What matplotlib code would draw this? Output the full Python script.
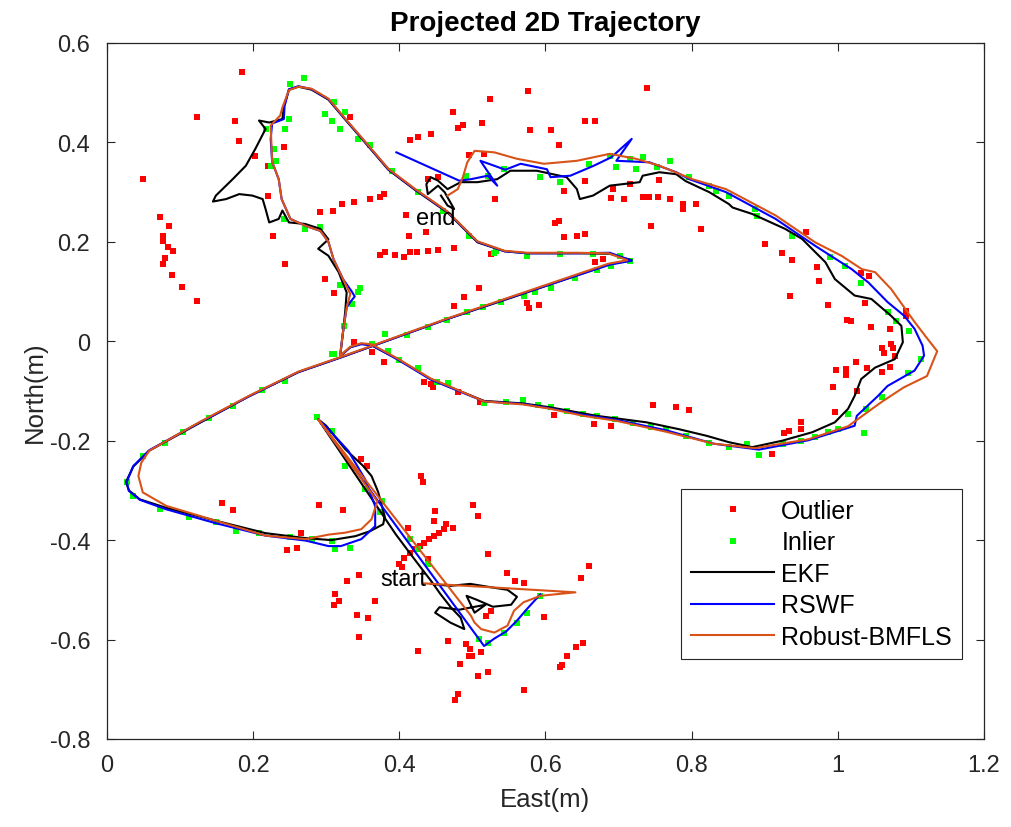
import matplotlib
matplotlib.use("Agg")
import matplotlib.pyplot as plt
import numpy as np

plt.rcParams['font.family'] = ['Liberation Sans', 'DejaVu Sans']

# measurements flagged as outliers (East, North)
outlier = np.array([
    (0.185, 0.541), (0.123, 0.452), (0.175, 0.444), (0.180, 0.403), (0.049, 0.326),
    (0.203, 0.373), (0.242, 0.390), (0.221, 0.353), (0.221, 0.292), (0.073, 0.249),
    (0.085, 0.232), (0.077, 0.212), (0.077, 0.202), (0.083, 0.189), (0.091, 0.182),
    (0.079, 0.167), (0.077, 0.155), (0.089, 0.133), (0.103, 0.110), (0.123, 0.081),
    (0.227, 0.212), (0.243, 0.155), (0.299, 0.125), (0.311, 0.098), (0.333, 0.452),
    (0.292, 0.259), (0.309, 0.263), (0.321, 0.276), (0.338, 0.281), (0.360, 0.286),
    (0.373, 0.290), (0.379, 0.296), (0.414, 0.405), (0.426, 0.410), (0.443, 0.416),
    (0.473, 0.462), (0.480, 0.428), (0.487, 0.434), (0.513, 0.439), (0.524, 0.487),
    (0.495, 0.375), (0.516, 0.377), (0.439, 0.326), (0.453, 0.330), (0.409, 0.254),
    (0.437, 0.220), (0.413, 0.212), (0.373, 0.173), (0.380, 0.179), (0.394, 0.173),
    (0.406, 0.169), (0.414, 0.179), (0.424, 0.179), (0.439, 0.182), (0.453, 0.184),
    (0.475, 0.187), (0.526, 0.175), (0.509, 0.108), (0.488, 0.090), (0.475, 0.071),
    (0.531, 0.286), (0.338, -0.001), (0.362, -0.022),
    (0.739, 0.509), (0.576, 0.504), (0.579, 0.424), (0.607, 0.424), (0.654, 0.444),
    (0.668, 0.444), (0.619, 0.395),
    (0.618, 0.242), (0.613, 0.238), (0.625, 0.209), (0.643, 0.211), (0.654, 0.216),
    (0.654, 0.323), (0.625, 0.303), (0.693, 0.306), (0.690, 0.289), (0.708, 0.286),
    (0.733, 0.291), (0.742, 0.291), (0.754, 0.291), (0.770, 0.286), (0.788, 0.276),
    (0.788, 0.266), (0.806, 0.276), (0.715, 0.316), (0.756, 0.324), (0.745, 0.231),
    (0.813, 0.226), (0.901, 0.196), (0.668, 0.159), (0.679, 0.165),
    (0.956, 0.219), (0.924, 0.177), (0.937, 0.163), (0.971, 0.150), (0.974, 0.122),
    (0.934, 0.092), (0.987, 0.073), (1.032, 0.137), (1.043, 0.131), (1.037, 0.076),
    (1.093, 0.061), (1.094, 0.051), (1.013, 0.043), (1.018, 0.041), (1.045, 0.029),
    (1.072, 0.025), (1.060, -0.014), (1.063, -0.024), (1.073, -0.006), (1.075, -0.014),
    (1.025, -0.041), (1.040, -0.054), (0.998, -0.058), (1.011, -0.056), (1.011, -0.068),
    (1.060, -0.061), (1.072, -0.051), (1.078, -0.029), (1.026, -0.101), (0.994, -0.091),
    (0.996, -0.142), (0.950, -0.163), (0.950, -0.177), (0.926, -0.185), (0.933, -0.181),
    (0.910, -0.227), (0.796, -0.138), (0.747, -0.128), (0.779, -0.133), (0.690, -0.170),
    (0.575, 0.076), (0.577, 0.066), (0.591, 0.073), (0.434, -0.081), (0.444, -0.086),
    (0.446, -0.091), (0.481, -0.103), (0.510, -0.122), (0.611, -0.148), (0.666, -0.167),
    (0.430, -0.272), (0.379, -0.041), (0.158, -0.326), (0.173, -0.340), (0.290, -0.329),
    (0.323, -0.340), (0.347, -0.237), (0.356, -0.250), (0.432, -0.284), (0.449, -0.341),
    (0.448, -0.362), (0.412, -0.376), (0.265, -0.385), (0.246, -0.420), (0.260, -0.415),
    (0.501, -0.330), (0.507, -0.351), (0.474, -0.375), (0.464, -0.368), (0.400, -0.448),
    (0.407, -0.435), (0.414, -0.425), (0.421, -0.418), (0.428, -0.411), (0.434, -0.405),
    (0.441, -0.398), (0.448, -0.391), (0.455, -0.385), (0.461, -0.378), (0.439, -0.437),
    (0.404, -0.455), (0.521, -0.428), (0.345, -0.470), (0.329, -0.483), (0.312, -0.509),
    (0.318, -0.522), (0.311, -0.531), (0.367, -0.523), (0.342, -0.550), (0.357, -0.557),
    (0.345, -0.594), (0.548, -0.467), (0.558, -0.482), (0.571, -0.487), (0.660, -0.453),
    (0.649, -0.477), (0.598, -0.554), (0.518, -0.552), (0.525, -0.542), (0.467, -0.603),
    (0.425, -0.623), (0.491, -0.608), (0.497, -0.619), (0.496, -0.633), (0.500, -0.633),
    (0.512, -0.626), (0.483, -0.650), (0.508, -0.673), (0.521, -0.666), (0.480, -0.710),
    (0.476, -0.722), (0.571, -0.701), (0.651, -0.607), (0.642, -0.614), (0.630, -0.633),
    (0.622, -0.651), (0.620, -0.656),
])

# measurements accepted as inliers
inlier = np.array([
    (0.251, 0.517), (0.269, 0.529), (0.311, 0.481), (0.326, 0.462), (0.299, 0.457),
    (0.308, 0.444), (0.319, 0.427), (0.249, 0.447), (0.244, 0.427), (0.217, 0.427),
    (0.228, 0.387), (0.231, 0.363), (0.224, 0.353), (0.242, 0.246), (0.271, 0.226),
    (0.292, 0.229), (0.319, 0.113), (0.346, 0.108), (0.344, 0.100), (0.310, -0.026),
    (0.491, 0.333), (0.521, 0.333), (0.532, 0.182), (0.344, 0.407), (0.543, 0.346),
    (0.593, 0.330), (0.620, 0.320), (0.659, 0.357), (0.688, 0.373), (0.715, 0.367),
    (0.733, 0.370), (0.770, 0.363), (0.697, 0.350), (0.724, 0.346), (0.752, 0.350),
    (0.797, 0.330), (0.530, 0.177), (0.575, 0.172), (0.620, 0.175), (0.665, 0.175),
    (0.702, 0.172), (0.715, 0.162), (0.824, 0.313), (0.851, 0.293), (0.887, 0.266),
    (0.833, 0.303), (0.937, 0.212), (1.032, 0.118), (1.069, 0.058), (1.098, 0.021),
    (1.114, -0.036), (1.096, -0.063), (1.060, -0.113), (1.039, -0.136), (1.014, -0.146),
    (1.036, -0.185), (0.987, -0.183), (0.969, -0.193), (0.892, -0.229), (0.876, -0.207),
    (0.851, -0.212), (0.824, -0.205), (0.792, -0.190), (0.670, -0.150), (0.695, -0.157),
    (0.425, -0.053), (0.466, -0.083), (0.516, -0.124), (0.546, -0.123), (0.569, -0.118),
    (0.607, -0.133), (0.652, -0.147), (0.765, -0.177), (0.439, 0.028), (0.493, 0.058),
    (0.539, 0.078), (0.570, 0.092), (0.607, 0.108), (0.308, -0.026), (0.362, -0.006),
    (0.244, -0.079), (0.172, -0.130), (0.104, -0.183), (0.049, -0.230), (0.027, -0.284),
    (0.036, -0.311), (0.072, -0.338), (0.149, -0.364), (0.176, -0.381), (0.208, -0.385),
    (0.308, -0.401), (0.333, -0.415), (0.312, -0.418), (0.287, -0.153), (0.308, -0.180),
    (0.326, -0.250), (0.353, -0.297), (0.376, -0.321), (0.373, -0.344), (0.414, -0.398),
    (0.425, -0.418), (0.439, -0.448), (0.509, -0.599), (0.521, -0.606), (0.543, -0.586),
    (0.561, -0.566), (0.575, -0.546), (0.593, -0.512),
    (0.385, -0.020), (0.400, -0.038), (0.452, -0.081), (0.590, -0.129), (0.630, -0.141),
    (0.720, -0.165), (0.745, -0.172), (0.925, -0.207), (0.950, -0.200), (1.000, -0.176),
    (0.380, 0.015), (0.410, 0.013), (0.465, 0.043), (0.515, 0.068), (0.585, 0.100),
    (0.640, 0.128), (0.670, 0.143), (0.690, 0.152), (0.212, -0.098), (0.140, -0.155),
    (0.080, -0.205), (0.112, -0.353), (0.250, -0.393), (0.280, -0.398), (0.890, 0.252),
    (0.990, 0.170), (1.010, 0.152), (1.080, 0.040), (0.360, 0.395), (0.390, 0.342),
    (0.425, 0.300), (0.460, 0.262), (0.495, 0.212), (0.335, 0.075), (0.325, 0.030),
])

# estimated trajectories
ekf = np.array([
    (0.443, -0.488), (0.470, -0.492), (0.497, -0.488), (0.522, -0.494), (0.548, -0.500),
    (0.561, -0.514), (0.553, -0.530), (0.528, -0.534), (0.506, -0.520), (0.492, -0.512),
    (0.503, -0.546), (0.518, -0.530), (0.482, -0.540), (0.455, -0.535), (0.449, -0.546),
    (0.470, -0.566), (0.489, -0.579), (0.484, -0.556), (0.471, -0.536), (0.456, -0.508),
    (0.445, -0.485), (0.420, -0.437), (0.395, -0.388), (0.289, -0.157), (0.300, -0.170),
    (0.326, -0.217), (0.350, -0.250), (0.362, -0.271), (0.371, -0.303), (0.380, -0.352),
    (0.378, -0.368), (0.360, -0.382), (0.340, -0.392), (0.307, -0.400), (0.272, -0.396),
    (0.217, -0.386), (0.149, -0.361), (0.081, -0.335), (0.045, -0.318), (0.030, -0.300),
    (0.026, -0.283), (0.036, -0.252), (0.058, -0.220), (0.126, -0.165), (0.194, -0.111),
    (0.262, -0.062), (0.321, -0.032), (0.466, 0.045), (0.552, 0.087), (0.688, 0.155),
    (0.718, 0.163), (0.688, 0.176), (0.643, 0.177), (0.575, 0.177), (0.544, 0.181),
    (0.507, 0.199), (0.466, 0.259), (0.421, 0.305), (0.385, 0.345), (0.353, 0.400),
    (0.326, 0.446), (0.303, 0.486), (0.280, 0.506), (0.262, 0.512), (0.249, 0.506),
    (0.242, 0.472), (0.240, 0.447), (0.222, 0.440), (0.208, 0.444), (0.217, 0.427),
    (0.203, 0.387), (0.190, 0.353), (0.172, 0.326), (0.149, 0.293), (0.145, 0.281),
    (0.163, 0.286), (0.181, 0.296), (0.199, 0.293), (0.213, 0.286), (0.217, 0.266),
    (0.222, 0.239), (0.235, 0.246), (0.240, 0.263), (0.249, 0.239), (0.271, 0.236),
    (0.292, 0.226), (0.303, 0.205), (0.289, 0.186), (0.303, 0.172), (0.317, 0.139),
    (0.328, 0.098), (0.326, 0.060), (0.323, 0.018), (0.319, -0.030), (0.333, -0.012),
    (0.348, -0.005), (0.362, -0.008), (0.398, -0.036), (0.443, -0.076), (0.466, -0.090),
    (0.516, -0.120), (0.569, -0.125), (0.607, -0.133), (0.670, -0.150), (0.738, -0.163),
    (0.783, -0.177), (0.820, -0.190), (0.851, -0.203), (0.883, -0.213), (0.924, -0.200),
    (0.965, -0.183), (0.996, -0.163), (1.014, -0.136), (1.023, -0.110), (1.032, -0.076),
    (1.051, -0.053), (1.078, -0.036), (1.089, -0.002), (1.087, 0.031), (1.073, 0.051),
    (1.046, 0.085), (1.023, 0.092), (0.996, 0.125), (0.983, 0.159), (0.951, 0.206),
    (0.928, 0.226), (0.883, 0.256), (0.856, 0.269), (0.851, 0.276), (0.824, 0.300),
    (0.792, 0.322), (0.779, 0.336), (0.756, 0.340), (0.733, 0.333), (0.729, 0.320),
    (0.688, 0.313), (0.665, 0.293), (0.647, 0.286), (0.643, 0.306), (0.629, 0.330),
    (0.588, 0.343), (0.552, 0.343), (0.534, 0.326), (0.507, 0.320), (0.484, 0.320),
    (0.466, 0.306), (0.453, 0.323), (0.443, 0.330), (0.437, 0.316), (0.439, 0.296),
    (0.453, 0.313), (0.462, 0.300), (0.475, 0.266), (0.466, 0.273), (0.457, 0.293),
])

rswf = np.array([
    (0.593, -0.509), (0.575, -0.538), (0.561, -0.562), (0.546, -0.584), (0.530, -0.598),
    (0.516, -0.613), (0.289, -0.157), (0.305, -0.180), (0.330, -0.220), (0.353, -0.277),
    (0.367, -0.332), (0.367, -0.372), (0.348, -0.398), (0.320, -0.412), (0.303, -0.412),
    (0.272, -0.401), (0.217, -0.391), (0.149, -0.366), (0.081, -0.338), (0.045, -0.319),
    (0.030, -0.301), (0.027, -0.283), (0.036, -0.251), (0.058, -0.219), (0.126, -0.164),
    (0.194, -0.111), (0.262, -0.062), (0.321, -0.032), (0.466, 0.045), (0.552, 0.088),
    (0.688, 0.154), (0.718, 0.162), (0.688, 0.178), (0.643, 0.177), (0.575, 0.177),
    (0.544, 0.181), (0.507, 0.200), (0.466, 0.260), (0.421, 0.306), (0.385, 0.346),
    (0.353, 0.401), (0.326, 0.447), (0.303, 0.487), (0.280, 0.507), (0.262, 0.513),
    (0.249, 0.507), (0.243, 0.473), (0.242, 0.447), (0.226, 0.438), (0.224, 0.407),
    (0.226, 0.361), (0.235, 0.326), (0.239, 0.286), (0.251, 0.246), (0.272, 0.232),
    (0.292, 0.222), (0.303, 0.200), (0.310, 0.165), (0.323, 0.125), (0.335, 0.100),
    (0.339, 0.090), (0.333, 0.079), (0.328, 0.068), (0.323, 0.019), (0.319, -0.030),
    (0.333, -0.012), (0.348, -0.006), (0.362, -0.008), (0.398, -0.037), (0.443, -0.077),
    (0.466, -0.091), (0.516, -0.121), (0.569, -0.126), (0.607, -0.135), (0.652, -0.148),
    (0.697, -0.158), (0.765, -0.179), (0.830, -0.206), (0.892, -0.218), (0.960, -0.199),
    (1.023, -0.170), (1.026, -0.150), (1.055, -0.110), (1.068, -0.090), (1.105, -0.059),
    (1.118, -0.029), (1.116, -0.009), (1.105, 0.025), (1.091, 0.051), (1.068, 0.079),
    (1.042, 0.118), (1.019, 0.145), (0.969, 0.192), (0.915, 0.246), (0.847, 0.300),
    (0.797, 0.326), (0.779, 0.340), (0.742, 0.360), (0.697, 0.363), (0.718, 0.407),
    (0.690, 0.370), (0.666, 0.353), (0.634, 0.333), (0.607, 0.330), (0.602, 0.346),
    (0.566, 0.357), (0.545, 0.345), (0.530, 0.353), (0.511, 0.363), (0.534, 0.313),
    (0.521, 0.333), (0.498, 0.326), (0.482, 0.323), (0.396, 0.380),
])

bmfls = np.array([
    (0.434, -0.487), (0.641, -0.505), (0.593, -0.512), (0.570, -0.525), (0.557, -0.542),
    (0.548, -0.572), (0.530, -0.586), (0.512, -0.579), (0.503, -0.566), (0.498, -0.552),
    (0.289, -0.157), (0.330, -0.240), (0.370, -0.322), (0.362, -0.358), (0.348, -0.378),
    (0.326, -0.385), (0.303, -0.389), (0.272, -0.398), (0.217, -0.391), (0.149, -0.361),
    (0.081, -0.331), (0.049, -0.304), (0.043, -0.271), (0.047, -0.244), (0.058, -0.220),
    (0.126, -0.163), (0.194, -0.110), (0.262, -0.061), (0.321, -0.031), (0.466, 0.046),
    (0.552, 0.089), (0.686, 0.156), (0.712, 0.163), (0.686, 0.177), (0.643, 0.178),
    (0.575, 0.178), (0.544, 0.182), (0.507, 0.201), (0.466, 0.261), (0.421, 0.307),
    (0.385, 0.347), (0.353, 0.402), (0.326, 0.448), (0.303, 0.488), (0.280, 0.508),
    (0.262, 0.512), (0.249, 0.505), (0.240, 0.470), (0.237, 0.454), (0.224, 0.434),
    (0.226, 0.361), (0.235, 0.326), (0.239, 0.286), (0.251, 0.246), (0.272, 0.232),
    (0.292, 0.222), (0.303, 0.200), (0.310, 0.165), (0.323, 0.125), (0.333, 0.095),
    (0.328, 0.068), (0.323, 0.019), (0.319, -0.029), (0.333, -0.011), (0.348, -0.004),
    (0.362, -0.006), (0.398, -0.035), (0.443, -0.075), (0.466, -0.089), (0.516, -0.121),
    (0.569, -0.127), (0.607, -0.136), (0.652, -0.150), (0.697, -0.160), (0.765, -0.182),
    (0.830, -0.206), (0.887, -0.215), (0.960, -0.197), (1.014, -0.171), (1.060, -0.122),
    (1.090, -0.093), (1.122, -0.070), (1.136, -0.020), (1.120, 0.010), (1.105, 0.039),
    (1.073, 0.105), (1.051, 0.139), (1.033, 0.145), (1.005, 0.172), (0.969, 0.199),
    (0.915, 0.253), (0.847, 0.306), (0.801, 0.326), (0.756, 0.353), (0.724, 0.367),
    (0.688, 0.377), (0.643, 0.363), (0.598, 0.357), (0.561, 0.367), (0.530, 0.380),
    (0.503, 0.383), (0.493, 0.360), (0.487, 0.330), (0.480, 0.306), (0.466, 0.293),
])

fig = plt.figure(figsize=(10.12, 8.28), dpi=100)
ax = fig.add_axes([0.1057, 0.1063, 0.8666, 0.8406])

ax.plot(outlier[:, 0], outlier[:, 1], 's', color='#ff0000', markersize=4.3,
        markeredgewidth=0, label='Outlier')
ax.plot(inlier[:, 0], inlier[:, 1], 's', color='#00ff00', markersize=4.3,
        markeredgewidth=0, label='Inlier')
ax.plot(ekf[:, 0], ekf[:, 1], color='black', lw=1.5, label='EKF')
ax.plot(rswf[:, 0], rswf[:, 1], color='#0000ff', lw=1.5, label='RSWF')
ax.plot(bmfls[:, 0], bmfls[:, 1], color='#D95319', lw=1.5, label='Robust-BMFLS')

ax.text(0.374, -0.478, 'start', fontsize=17, va='center', ha='left')
ax.text(0.423, 0.248, 'end', fontsize=17, va='center', ha='left')

ax.set_xlim(0, 1.2)
ax.set_ylim(-0.8, 0.6)
ax.set_xticks(np.arange(0, 1.21, 0.2))
ax.set_xticklabels(['0', '0.2', '0.4', '0.6', '0.8', '1', '1.2'])
ax.set_yticks(np.arange(-0.8, 0.61, 0.2))
ax.set_yticklabels(['-0.8', '-0.6', '-0.4', '-0.2', '0', '0.2', '0.4', '0.6'])
ax.tick_params(direction='in', top=True, right=True, length=6, width=0.8,
               labelsize=17, colors='#262626')
ax.tick_params(axis='x', pad=11)
ax.tick_params(axis='y', pad=12)
for sp in ax.spines.values():
    sp.set_color('#262626')
    sp.set_linewidth(0.9)

ax.set_xlabel('East(m)', fontsize=18.5, color='#262626', labelpad=8)
ax.set_ylabel('North(m)', fontsize=18.5, color='#262626', labelpad=2)
ax.set_title('Projected 2D Trajectory', fontsize=20, fontweight='bold', pad=9)

leg = ax.legend(loc='lower right', bbox_to_anchor=(0.975, 0.115), fontsize=18,
                fancybox=False, framealpha=1, edgecolor='#262626',
                handlelength=3.3, handletextpad=0.3, borderpad=0.4,
                labelspacing=0.3, borderaxespad=0, markerscale=1.0)
leg.get_frame().set_linewidth(0.8)

fig.savefig('out.png', dpi=100)
